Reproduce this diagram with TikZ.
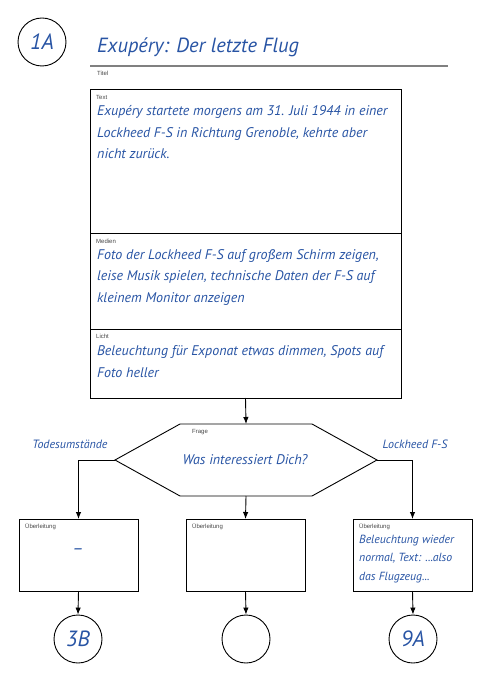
\documentclass[tikz,border=0pt]{standalone}
\usepackage{fontspec}
\setmainfont{Liberation Sans}
\newfontfamily\handFont{PT Sans}
\usetikzlibrary{calc}
\usetikzlibrary{positioning}
\usetikzlibrary{arrows.meta}
\definecolor{inkBlue}{RGB}{40,84,164}
\definecolor{labelGray}{RGB}{70,70,70}
\tikzset{
  sectionBox/.style={%
    rectangle, draw, line width=0.9pt, anchor=north west,
    inner sep=0pt, outer sep=0pt, minimum width=311pt,
  },
  smallBox/.style={%
    rectangle, draw, line width=0.9pt, anchor=north west,
    inner sep=0pt, outer sep=0pt, minimum width=119pt, minimum height=72pt,
  },
  fieldLabel/.style={%
    anchor=west, inner sep=0pt, text=labelGray,
    font=\fontsize{6}{7}\selectfont,
  },
  handText/.style={%
    anchor=base west, inner sep=0pt, align=left, text=inkBlue,
    font=\handFont\itshape\fontsize{14}{21.5}\selectfont,
  },
  refCircle/.style={%
    circle, draw, line width=0.9pt, minimum size=48pt, inner sep=0pt,
    text=inkBlue, font=\handFont\itshape\fontsize{22}{22}\selectfont,
  },
  flowArrow/.style={%
    line width=0.9pt, -{Latex[length=7pt,width=5.5pt]},
  }
}

\begin{document}
\begin{tikzpicture}[x=1pt,y=-1pt]
                \useasboundingbox (0,0) rectangle (494,700);
                % Kopf
                \node[refCircle] (start) at (42,42) {1A};
                \node[handText, font=\handFont\itshape\fontsize{20.5}{20.5}\selectfont]
                  (title) at (97,53) {Exupéry: Der letzte Flug};
                \coordinate (titleLineL) at (90,66);
                \coordinate (titleLineR) at (448,66);
                \draw[line width=1.4pt, color=gray] (titleLineL) -- (titleLineR);
                \node[fieldLabel] (titleLabel) at (97,73) {Titel};
                % Text, Medien, Licht (base = letzte Zeile)
                \node[sectionBox, minimum height=144pt] (textBox) at (90,89) {};
                \node[sectionBox, minimum height=96pt] (medienBox) at (textBox.south west) {};
                \node[sectionBox, minimum height=69pt] (lichtBox) at (medienBox.south west) {};
                \node[fieldLabel] (textLabel) at ($(textBox.north west)+(6,8)$) {Text};
                \node[handText] (textBody) at ($(textBox.north west)+(7,70)$)
                  {Exupéry startete morgens am 31. Juli 1944 in einer\\
                   Lockheed F-S in Richtung Grenoble, kehrte aber\\
                   nicht zurück.};
                \node[fieldLabel] (medienLabel) at ($(medienBox.north west)+(6,8)$) {Medien};
                \node[handText] (medienBody) at ($(medienBox.north west)+(7,69)$)
                  {Foto der Lockheed F-S auf großem Schirm zeigen,\\
                   leise Musik spielen, technische Daten der F-S auf\\
                   kleinem Monitor anzeigen};
                \node[fieldLabel] (lichtLabel) at ($(lichtBox.north west)+(6,7)$) {Licht};
                \node[handText] (lichtBody) at ($(lichtBox.north west)+(7,48)$)
                  {Beleuchtung für Exponat etwas dimmen, Spots auf\\
                   Foto heller};
                % Frage
                \coordinate (frageL) at (115,460);
                \coordinate (frageTL) at (180,424);
                \coordinate (frageTop) at (246,424);
                \coordinate (frageTR) at (312,424);
                \coordinate (frageR) at (377,460);
                \coordinate (frageBR) at (312,496);
                \coordinate (frageBottom) at (246,496);
                \coordinate (frageBL) at (180,496);
                \draw[line width=0.9pt, line join=miter]
                  (frageL) -- (frageTL) -- (frageTR) -- (frageR)
                  -- (frageBR) -- (frageBL) -- cycle;
                \node[fieldLabel] (frageLabel) at (192,432) {Frage};
                \node[handText, anchor=center] (frageText) at (245,460) {Was interessiert Dich?};
                \node[handText, anchor=center, font=\handFont\itshape\fontsize{12}{12}\selectfont]
                  (optionA) at (70,444) {Todesumstände};
                \node[handText, anchor=center, font=\handFont\itshape\fontsize{12}{12}\selectfont]
                  (optionC) at (415,444) {Lockheed F-S};
                % Überleitungen
                \node[smallBox] (ueberA) at (19,519) {};
                \node[smallBox] (ueberB) at (186,519) {};
                \node[smallBox] (ueberC) at (353,519) {};
                \foreach \boxName in {ueberA,ueberB,ueberC}
                  \node[fieldLabel] (\boxName Label) at ($(\boxName.north west)+(6,8)$) {Überleitung};
                \node[handText, anchor=center, font=\handFont\itshape\fontsize{18}{18}\selectfont]
                  (ueberAText) at (78,552) {–};
                \node[handText, font=\handFont\itshape\fontsize{11.8}{18.5}\selectfont]
                  (ueberCText) at ($(ueberC.north west)+(6,61)$)
                  {Beleuchtung wieder\\
                   normal, Text: ...also\\
                   das Flugzeug...};
                % Sprungziele
                \node[refCircle] (endA) at (78,639) {3B};
                \node[refCircle] (endB) at (246,639) {};
                \node[refCircle] (endC) at (413,639) {9A};
                % Verbindungen
                \draw[flowArrow] (lichtBox.south) -- (frageTop);
                \draw[flowArrow] (frageL) -| (ueberA.north);
                \draw[flowArrow] (frageBottom) -- (ueberB.north);
                \draw[flowArrow] (frageR) -| (ueberC.north);
                \foreach \srcName/\dstName in {ueberA/endA,ueberB/endB,ueberC/endC}
                  \draw[flowArrow] (\srcName.south) -- (\dstName.north);
              \end{tikzpicture}
\end{document}
